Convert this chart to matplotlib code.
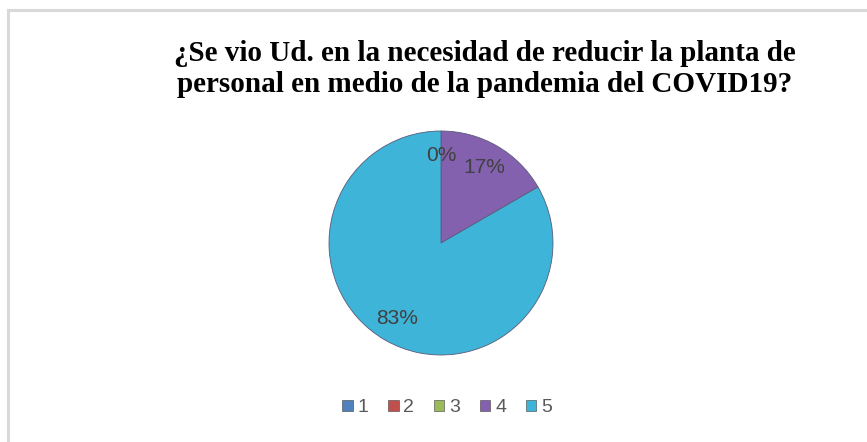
import matplotlib.pyplot as plt
from matplotlib.lines import Line2D
from matplotlib.patches import Patch

# Data
categories = ["1", "2", "3", "4", "5"]
counts = [0, 0, 0, 1, 5]
colors = ["#4F81BD", "#C0504D", "#9BBB59", "#8461AE", "#3DB4D8"]
title = "¿Se vio Ud. en la necesidad de reducir la planta de\npersonal en medio de la pandemia del COVID19?"

fig = plt.figure(figsize=(8.67, 4.42), dpi=100)

# frame lines (top and left visible in the reference)
fig.add_artist(Line2D([8 / 867, 8 / 867], [0, 1 - 9.5 / 442], color="#D9D9D9", lw=2.2))
fig.add_artist(Line2D([8 / 867, 1], [1 - 9.5 / 442, 1 - 9.5 / 442], color="#D9D9D9", lw=2.2))

ax = fig.add_axes([329 / 867, 87 / 442, 224 / 867, 224 / 442])
wedges, texts, autotexts = ax.pie(
    counts,
    colors=colors,
    startangle=90,
    counterclock=False,
    autopct="%1.0f%%",
    pctdistance=0.78,
    radius=1,
    wedgeprops=dict(edgecolor="#5A5A7A", linewidth=0.6),
    textprops=dict(fontsize=15, color="#404040", family="Liberation Sans"),
)
# the three empty slices share one spot, show a single 0% label
for t in autotexts[:2]:
    t.set_visible(False)
ax.set_xlim(-1, 1)
ax.set_ylim(-1, 1)
ax.set_aspect("equal")
ax.axis("off")

fig.text(485 / 867, 1 - 69 / 442, title, ha="center", va="center",
         fontsize=21, fontweight="bold", family="Liberation Serif",
         linespacing=1.15, color="black")

handles = [Patch(facecolor=c, edgecolor="#404040", linewidth=0.4) for c in colors]
fig.legend(handles, categories, loc="center", bbox_to_anchor=(447 / 867, 1 - 408 / 442),
           ncol=5, frameon=False, handlelength=0.55, handleheight=0.55,
           handletextpad=0.25, columnspacing=1.0,
           prop=dict(family="Liberation Sans", size=14), labelcolor="#595959")

fig.savefig("out.png", dpi=100)
